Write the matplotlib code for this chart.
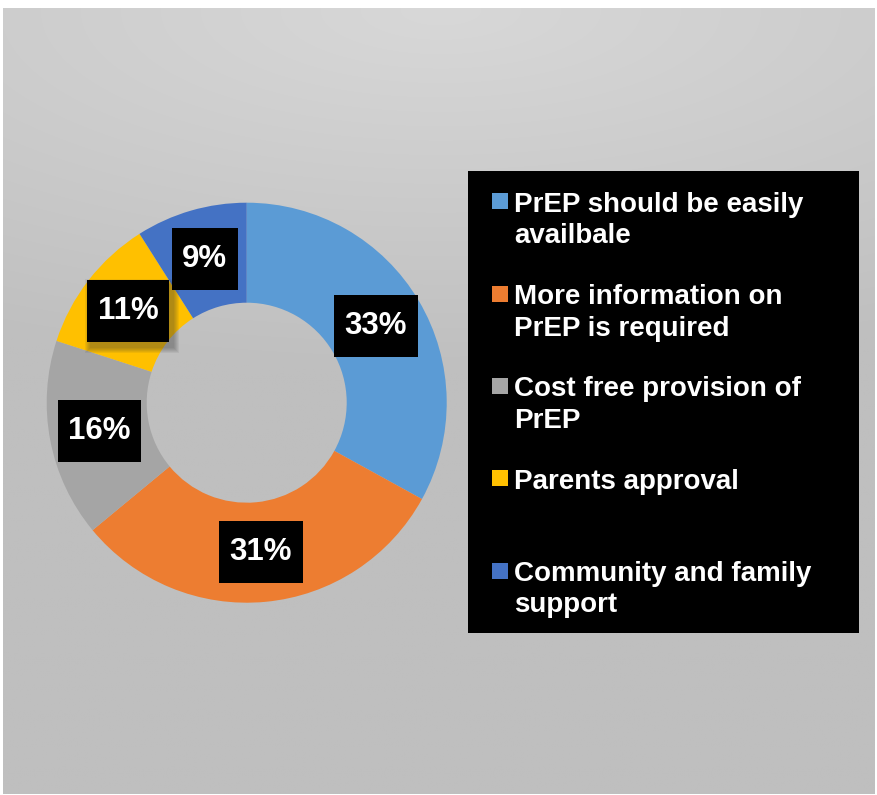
import numpy as np
import matplotlib
matplotlib.use("Agg")
import matplotlib.pyplot as plt
from matplotlib.patches import Rectangle

categories = [
    "PrEP should be easily\navailbale",
    "More information on\nPrEP is required",
    "Cost free provision of\nPrEP",
    "Parents approval",
    "Community and family\nsupport",
]
shares = [33, 31, 16, 11, 9]
colors = ["#5B9BD5", "#ED7D31", "#A5A5A5", "#FFC000", "#4472C4"]

W, H = 877, 795
fig = plt.figure(figsize=(W / 100, H / 100), dpi=100)
fig.patch.set_facecolor("white")

FONT = "Liberation Sans"


def fx(px):
    return px / W


def fy(py):
    return 1 - py / H


# gradient backdrop panel
bg = fig.add_axes([fx(3), fy(794), fx(875) - fx(3), fy(8) - fy(794)])
bg.set_axis_off()
gh, gw = 400, 440
yy, xx = np.mgrid[0:gh, 0:gw]
px_x = 3 + xx * (872 / gw)
px_y = 8 + yy * (786 / gh)
d = np.sqrt(((px_x - 440) / 1000) ** 2 + ((px_y - 10) / 360) ** 2)
v = 216 - (216 - 191) * np.clip(d, 0, 1)
img = np.dstack([v, v, v]) / 255.0
bg.imshow(img, aspect="auto", interpolation="bilinear", extent=[0, 1, 0, 1])
bg.set_xlim(0, 1)
bg.set_ylim(0, 1)

# donut
cx, cy, R = 246.7, 402.7, 200
ax = fig.add_axes([fx(cx - R), fy(cy + R), 2 * R / W, 2 * R / H])
ax.set_axis_off()
wedges, texts, autotexts = ax.pie(
    shares,
    colors=colors,
    startangle=90,
    counterclock=False,
    radius=1.0,
    autopct="%1.0f%%",
    pctdistance=0.75,
    wedgeprops=dict(width=0.5, edgecolor="none", linewidth=0),
    textprops=dict(color="white", fontsize=22.5, fontweight="bold", family=FONT),
)
ax.set_xlim(-1, 1)
ax.set_ylim(-1, 1)
ax.set_aspect("equal")

# black label boxes behind the percentages
fig.canvas.draw()
renderer = fig.canvas.get_renderer()
unit = R  # pixels per data unit
box_h = 62 / unit
for i, t in enumerate(autotexts):
    t.set_zorder(5)
    t.set_va("center")
    t.set_ha("center")
    bb = t.get_window_extent(renderer)
    bw = (bb.width + 21) / unit
    x0, y0 = t.get_position()
    if i == 3:
        # soft drop shadow
        for k in range(6):
            grow = (6 - k) * 1.0 / unit
            ax.add_patch(Rectangle((x0 - bw / 2 + 4 / unit - grow, y0 - box_h / 2 - 5 / unit - grow),
                                   bw + 2 * grow, box_h + 2 * grow,
                                   facecolor="#3a3a3a", edgecolor="none", alpha=0.08, zorder=3))
    ax.add_patch(Rectangle((x0 - bw / 2, y0 - box_h / 2), bw, box_h,
                           facecolor="black", edgecolor="none", zorder=4))

# legend panel
leg = fig.add_axes([0, 0, 1, 1], facecolor="none")
leg.set_axis_off()
leg.set_xlim(0, W)
leg.set_ylim(H, 0)
leg.add_patch(Rectangle((468, 171), 391, 462, facecolor="black", edgecolor="none"))
first_base = 211.7
step = 92.3
line_gap = 31.6
for i, (name, col) in enumerate(zip(categories, colors)):
    base = first_base + step * i
    leg.add_patch(Rectangle((492, base - 18.4), 16, 16, facecolor=col, edgecolor="none"))
    for j, line in enumerate(name.split("\n")):
        leg.text(514, base + j * line_gap, line, color="white", fontsize=20,
                 fontweight="bold", family=FONT, va="baseline", ha="left")

fig.savefig("out.png", dpi=100, facecolor="white")
